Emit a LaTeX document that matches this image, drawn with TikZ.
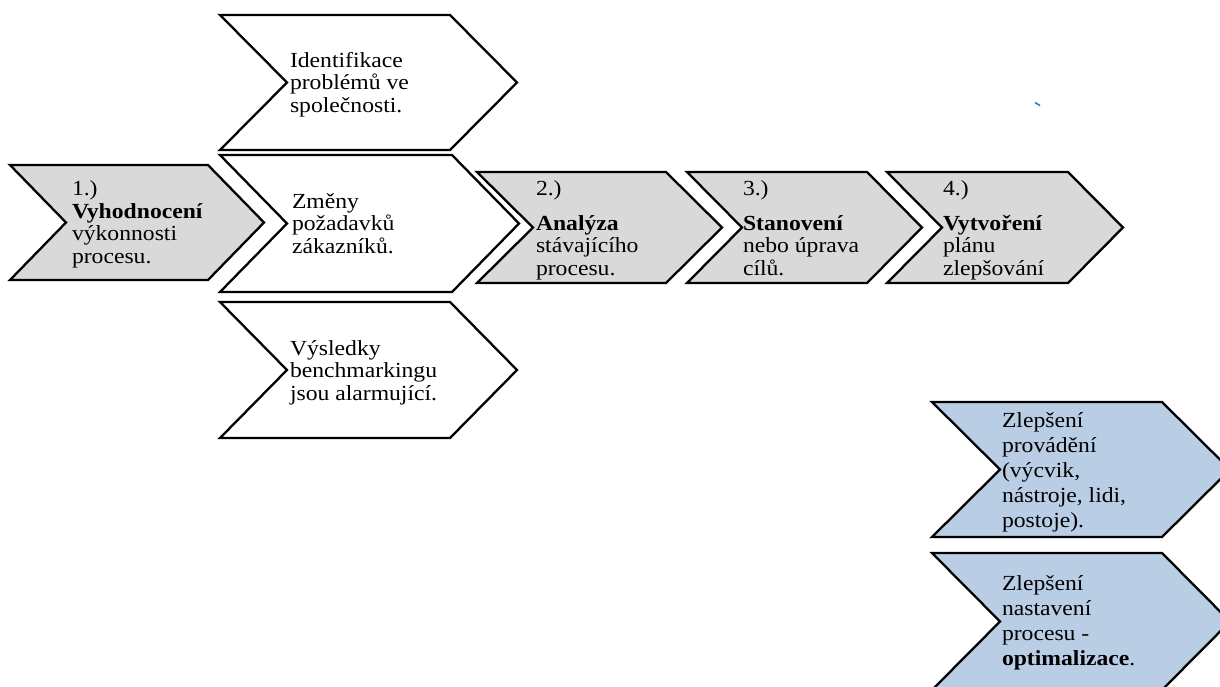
\documentclass[tikz,border=0pt]{standalone}
\usepackage{fontspec}
\setmainfont{Liberation Serif}[FakeStretch=1.1]
\definecolor{stepgray}{HTML}{D9D9D9}
\definecolor{stepblue}{HTML}{B9CDE5}
\definecolor{markblue}{HTML}{4472C4}
\tikzset{
  chevron/.style={draw=black, line width=2.3pt, line join=miter},
  graychev/.style={chevron, fill=stepgray},
  whitechev/.style={chevron, fill=white},
  bluechev/.style={chevron, fill=stepblue},
  % multi-line labels are placed by the baseline of their last line
  lbl/.style={anchor=base west, inner sep=0pt, outer sep=0pt, align=left,
    font=\fontsize{21.5}{22.5}\selectfont},
  lblwide/.style={lbl, font=\fontsize{21.5}{25}\selectfont}
}
% chevron: left x, right x, top y, bottom y, point depth
\newcommand{\chevpath}[5]{(#1,#3) -- (#2,#3) -- ({#2+#5},{(#3+#4)/2}) -- (#2,#4) -- (#1,#4) -- ({#1+#5},{(#3+#4)/2}) -- cycle}
\begin{document}
\begin{tikzpicture}[x=1pt, y=-1pt]
\useasboundingbox (0,0) rectangle (1220,686);
\clip (0,0) rectangle (1220,686);

% step 1
\draw[graychev] \chevpath{10}{208}{165}{280}{56};
\node[lbl] (s1) at (72,263) {1.)\\\textbf{Vyhodnocení}\\výkonnosti\\procesu.};

% triggers
\draw[whitechev] \chevpath{220}{450}{15}{150}{67};
\node[lbl] (t1) at (290,112) {Identifikace\\problémů ve\\společnosti.};
\draw[whitechev] \chevpath{220}{452}{155}{292}{67};
\node[lbl] (t2) at (292,253) {Změny\\požadavků\\zákazníků.};
\draw[whitechev] \chevpath{220}{450}{302}{438}{67};
\node[lbl] (t3) at (290,400) {Výsledky\\benchmarkingu\\jsou alarmující.};

% steps 2-4
\draw[graychev] \chevpath{477}{666}{172}{283}{56};
\node[lbl] (s2) at (536,275) {2.)\\[12pt]\textbf{Analýza}\\stávajícího\\procesu.};
\draw[graychev] \chevpath{687}{867}{172}{283}{55};
\node[lbl] (s3) at (743,275) {3.)\\[12pt]\textbf{Stanovení}\\nebo úprava\\cílů.};
\draw[graychev] \chevpath{887}{1068}{172}{283}{55};
\node[lbl] (s4) at (943,275) {4.)\\[12pt]\textbf{Vytvoření}\\plánu\\zlepšování};

% improvements
\draw[bluechev] \chevpath{932}{1162}{402}{537}{68};
\node[lblwide] (i1) at (1002,527) {Zlepšení\\provádění\\(výcvik,\\nástroje, lidi,\\postoje).};
\draw[bluechev] \chevpath{932}{1162}{553}{690}{68};
\node[lblwide] (i2) at (1002,665) {Zlepšení\\nastavení\\procesu -\\\textbf{optimalizace}.};

% stray accent stroke
\coordinate (accA) at (1035,102.5);
\coordinate (accB) at (1040,105.5);
\draw[markblue, line width=1.6pt] (accA) -- (accB);
\end{tikzpicture}
\end{document}
